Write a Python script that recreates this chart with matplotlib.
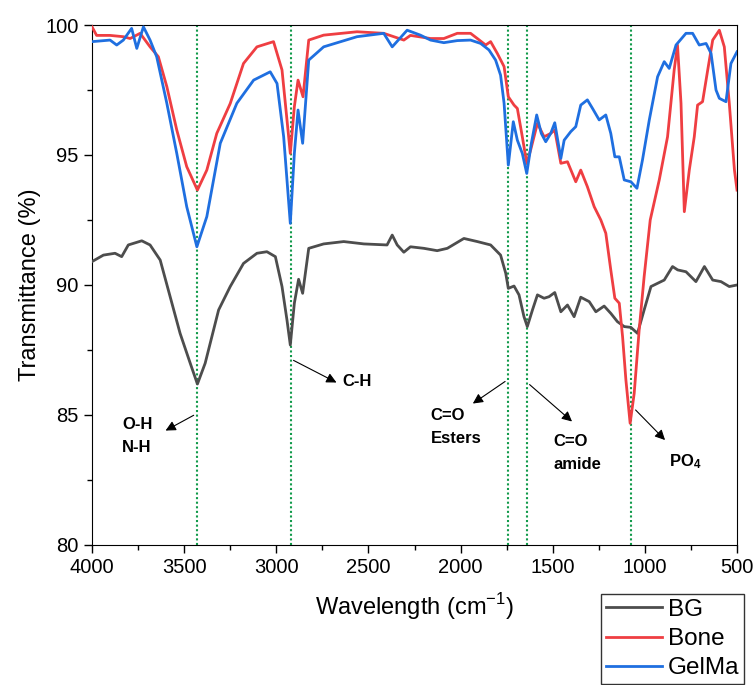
import matplotlib
matplotlib.use("Agg")
import matplotlib.pyplot as plt
from matplotlib.ticker import MultipleLocator

plt.rcParams["font.family"] = ["Liberation Sans", "DejaVu Sans"]
plt.rcParams["mathtext.fontset"] = "custom"
plt.rcParams["mathtext.rm"] = "Liberation Sans"
plt.rcParams["mathtext.bf"] = "Liberation Sans:bold"

# spectra (wavenumber, transmittance %)
wn_bg = [4000, 3938, 3875, 3839, 3803, 3730, 3685, 3630, 3576, 3522, 3467, 3428, 3386,
         3313, 3250, 3178, 3105, 3051, 3005, 2969, 2942, 2924, 2902, 2879, 2857, 2824,
         2743, 2634, 2525, 2399, 2371, 2344, 2308, 2272, 2199, 2127, 2072, 1982, 1909,
         1837, 1783, 1755, 1741, 1710, 1683, 1656, 1638, 1610, 1583, 1547, 1520, 1489,
         1456, 1420, 1384, 1348, 1302, 1266, 1221, 1185, 1149, 1112, 1076, 1040, 1004,
         967, 895, 850, 822, 777, 723, 677, 632, 587, 542, 500]
t_bg = [90.9, 91.15, 91.22, 91.09, 91.54, 91.7, 91.54, 90.96, 89.55, 88.14, 86.99, 86.19, 86.99,
        89.04, 89.94, 90.83, 91.22, 91.28, 91.09, 89.94, 88.65, 87.69, 89.3, 90.22, 89.68, 91.41,
        91.58, 91.67, 91.58, 91.54, 91.92, 91.54, 91.26, 91.47, 91.41, 91.32, 91.41, 91.79, 91.67,
        91.54, 91.15, 90.45, 89.87, 89.96, 89.62, 88.78, 88.4, 89.04, 89.62, 89.49, 89.55, 89.71,
        88.97, 89.23, 88.78, 89.53, 89.36, 88.97, 89.19, 88.91, 88.59, 88.4, 88.37, 88.14, 89.04,
        89.94, 90.19, 90.71, 90.58, 90.51, 90.13, 90.71, 90.19, 90.13, 89.94, 90.0]

wn_bone = [4000, 3975, 3902, 3830, 3793, 3739, 3685, 3640, 3594, 3540, 3486, 3428, 3377,
           3323, 3250, 3178, 3105, 3015, 2969, 2942, 2924, 2902, 2882, 2855, 2824, 2743,
           2562, 2417, 2308, 2272, 2163, 2091, 2018, 1946, 1909, 1864, 1837, 1801, 1764,
           1741, 1710, 1692, 1665, 1641, 1620, 1583, 1547, 1511, 1489, 1456, 1420, 1375,
           1348, 1312, 1275, 1239, 1212, 1185, 1163, 1139, 1121, 1103, 1080, 1058, 1031,
           1004, 971, 922, 877, 841, 823, 804, 786, 759, 732, 714, 687, 659, 632, 596,
           569, 542, 514, 500]
t_bone = [99.93, 99.6, 99.6, 99.55, 99.48, 99.68, 99.16, 98.78, 97.63, 95.96, 94.55, 93.65, 94.42,
          95.83, 96.98, 98.52, 99.16, 99.36, 98.27, 96.35, 95.06, 96.86, 97.88, 97.24, 99.42, 99.61,
          99.74, 99.68, 99.42, 99.6, 99.48, 99.48, 99.68, 99.68, 99.48, 99.23, 99.36, 98.91, 98.4,
          97.24, 96.92, 96.79, 95.7, 94.68, 95.19, 96.22, 95.7, 95.83, 95.96, 94.68, 94.74, 93.97,
          94.42, 93.78, 93.01, 92.5, 91.99, 90.58, 89.49, 89.3, 88.01, 86.35, 84.68, 85.83, 88.27,
          90.32, 92.5, 94.04, 95.7, 98.27, 99.23, 96.99, 92.82, 94.42, 95.7, 96.92, 97.05, 98.27, 99.42, 99.8,
          99.16, 96.99, 94.42, 93.65]

wn_gelma = [4000, 3902, 3866, 3830, 3785, 3757, 3721, 3685, 3649, 3594, 3540, 3486, 3431,
            3377, 3304, 3214, 3123, 3033, 2996, 2960, 2924, 2902, 2882, 2857, 2824, 2743,
            2562, 2417, 2371, 2290, 2218, 2163, 2091, 2018, 1946, 1891, 1846, 1810, 1783,
            1764, 1741, 1714, 1692, 1665, 1641, 1616, 1587, 1562, 1538, 1511, 1489, 1456,
            1438, 1402, 1375, 1348, 1312, 1284, 1248, 1212, 1185, 1163, 1139, 1112, 1076,
            1043, 1013, 976, 931, 895, 868, 831, 777, 741, 705, 668, 641, 614, 596, 560,
            533, 500]
t_gelma = [99.36, 99.42, 99.23, 99.42, 99.87, 99.1, 99.93, 99.42, 98.78, 96.99, 95.06, 93.01, 91.47,
           92.63, 95.45, 96.99, 97.88, 98.2, 97.75, 95.7, 92.37, 95.06, 96.73, 95.45, 98.65, 99.16,
           99.55, 99.68, 99.16, 99.8, 99.61, 99.42, 99.32, 99.4, 99.42, 99.29, 99.04, 98.65, 98.07,
           96.99, 94.61, 96.28, 95.57, 95.06, 94.29, 95.45, 96.54, 95.83, 95.51, 95.83, 96.24, 94.87,
           95.57, 95.9, 96.09, 96.92, 97.12, 96.79, 96.35, 96.54, 95.83, 94.93, 94.93, 94.04, 93.97,
           93.72, 94.81, 96.35, 98.01, 98.59, 98.33, 99.23, 99.68, 99.68, 99.23, 99.29, 98.91, 97.5, 97.18, 97.05,
           98.52, 98.97]

peaks = [3430, 2922, 1743, 1638, 1078]

fig = plt.figure(figsize=(7.56, 6.85), dpi=100)
ax = fig.add_axes([0.1217, 0.2044, 0.8532, 0.7591])

for p in peaks:
    ax.axvline(p, color="#119a4a", linestyle=(0, (1, 1.2)), linewidth=1.5, zorder=1)

ax.plot(wn_bg, t_bg, color="#4d4d4d", lw=2, label="BG", zorder=3)
ax.plot(wn_bone, t_bone, color="#ef3e42", lw=2, label="Bone", zorder=3)
ax.plot(wn_gelma, t_gelma, color="#1f6fe0", lw=2, label="GelMa", zorder=3)

ax.set_xlim(4000, 500)
ax.set_ylim(80, 100)
ax.xaxis.set_major_locator(MultipleLocator(500))
ax.xaxis.set_minor_locator(MultipleLocator(250))
ax.yaxis.set_major_locator(MultipleLocator(5))
ax.yaxis.set_minor_locator(MultipleLocator(2.5))
ax.tick_params(which="major", direction="out", length=6, width=1, labelsize=14.5)
ax.tick_params(which="minor", direction="out", length=3.5, width=1)
ax.set_xlabel("Wavelength (cm$^{-1}$)", fontsize=17, labelpad=10)
ax.set_ylabel("Transmittance (%)", fontsize=17, labelpad=3)

arw = dict(arrowstyle="-|>", color="black", lw=0.8, mutation_scale=15)
ann = dict(fontsize=12, fontweight="bold", ha="left", va="center", linespacing=1.65)
ax.annotate("O-H\nN-H", xy=(3837, 84.2), xytext=(3837, 84.2), **ann)
ax.annotate("", xy=(3614, 84.35), xytext=(3435, 85.04), arrowprops=arw)
ax.annotate("C-H", xy=(2643, 86.28), xytext=(2643, 86.28), **ann)
ax.annotate("", xy=(2660, 86.2), xytext=(2920, 87.15), arrowprops=arw)
ax.annotate("C=O\nEsters", xy=(2163, 84.55), xytext=(2163, 84.55), **ann)
ax.annotate("", xy=(1946, 85.38), xytext=(1746, 86.35), arrowprops=arw)
ax.annotate("C=O\namide", xy=(1495, 83.55), xytext=(1495, 83.55), **ann)
ax.annotate("", xy=(1384, 84.68), xytext=(1637, 86.24), arrowprops=arw)
ax.annotate(r"$\mathbf{PO_4}$", xy=(869, 83.2), xytext=(869, 83.2), **ann)
ax.annotate("", xy=(880, 83.96), xytext=(1061, 85.27), arrowprops=arw)

fig.legend(loc="upper left", bbox_to_anchor=(601 / 756, 1 - 594 / 685),
           fontsize=17.5, frameon=True, fancybox=False, edgecolor="black",
           handlelength=2.3, handletextpad=0.25, borderpad=0.2, labelspacing=0.3,
           borderaxespad=0)

fig.savefig("out.png", dpi=100)
